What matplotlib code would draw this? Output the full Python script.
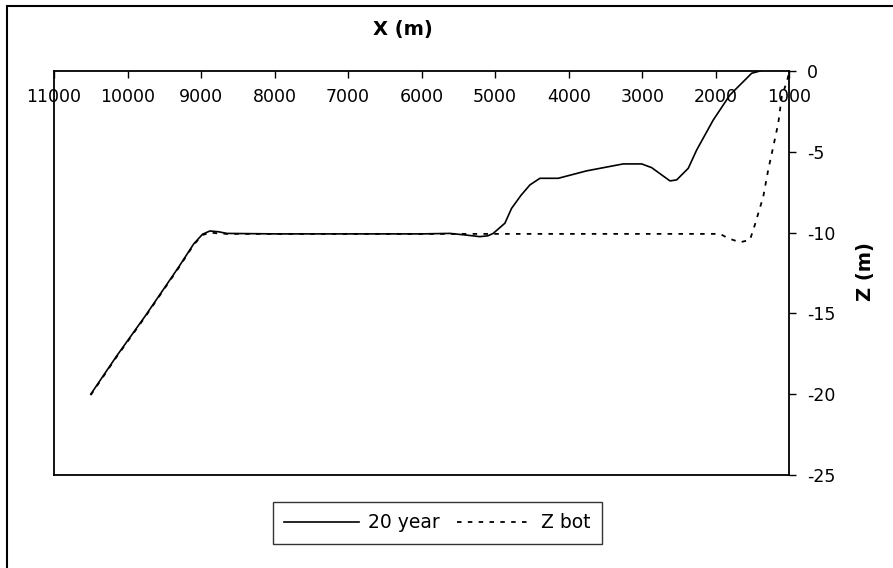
import matplotlib
matplotlib.use("Agg")
import matplotlib.pyplot as plt
from matplotlib.patches import Rectangle

plt.rcParams["font.family"] = ["DejaVu Sans"]
plt.rcParams["axes.unicode_minus"] = False

# Bed profile after 20 years (distance in m, elevation in m)
x_20yr = [10500, 10150, 9750, 9300, 9100, 8980, 8880, 8760, 8650, 8000, 7000,
          6000, 5616, 5400, 5210, 5100, 5027, 4868, 4777, 4650, 4528, 4392,
          4143, 3757, 3259, 3008, 2872, 2623, 2532, 2374, 2260, 2034, 1807,
          1626, 1512, 1399]
z_20yr = [-20.0, -17.65, -15.1, -12.1, -10.7, -10.1, -9.9, -9.95, -10.05,
          -10.08, -10.08, -10.08, -10.05, -10.15, -10.25, -10.2, -10.05, -9.42,
          -8.5, -7.7, -7.05, -6.64, -6.64, -6.18, -5.75, -5.75, -5.98, -6.8,
          -6.74, -6.02, -4.89, -3.03, -1.48, -0.66, -0.14, 0.0]

# Initial bottom elevation
x_zbot = [10500, 10150, 9750, 9300, 9100, 8980, 8880, 8760, 8650, 7000, 5000,
          3000, 1943, 1830, 1671, 1535, 1467, 1354, 1286, 1218, 1150, 1103,
          1027, 1000]
z_zbot = [-20.05, -17.7, -15.15, -12.15, -10.75, -10.15, -10.0, -10.05, -10.08,
          -10.08, -10.08, -10.08, -10.08, -10.35, -10.6, -10.45, -9.5, -7.77,
          -6.1, -4.68, -3.23, -1.59, -0.56, 0.0]

x_ticks = [11000, 10000, 9000, 8000, 7000, 6000, 5000, 4000, 3000, 2000, 1000]
z_ticks = [0, -5, -10, -15, -20, -25]

W, H = 893, 568
fig = plt.figure(figsize=(W / 100, H / 100), dpi=100)
fig.patch.set_facecolor("white")

left, right, top, bottom = 54, 789.3, 71, 475
ax = fig.add_axes([left / W, 1 - bottom / H, (right - left) / W, (bottom - top) / H])

ax.plot(x_20yr, z_20yr, color="black", lw=1.2, label="20 year")
ax.plot(x_zbot, z_zbot, color="black", lw=1.3, linestyle=(0, (2.5, 3.5)),
        label="Z bot")

ax.set_xlim(11000, 1000)
ax.set_ylim(-25, 0)
ax.set_xticks(x_ticks)
ax.set_xticklabels([str(v) for v in x_ticks])
ax.set_yticks(z_ticks)
ax.set_yticklabels([str(v) for v in z_ticks])

for sp in ax.spines.values():
    sp.set_linewidth(1.3)
    sp.set_color("black")

ax.tick_params(axis="x", top=True, bottom=False, labeltop=True,
               labelbottom=False, direction="in", length=5, width=1,
               pad=-25, labelsize=12.5)
ax.yaxis.tick_right()
ax.tick_params(axis="y", right=True, left=False, direction="out", length=5,
               width=1, pad=8, labelsize=12.5)

fig.text(403 / W, 1 - 30 / H, "X (m)", fontsize=14, fontweight="bold",
         ha="center", va="center")
fig.text(866 / W, 1 - 272 / H, "Z (m)", fontsize=14, fontweight="bold",
         rotation=90, ha="center", va="center")

leg = fig.legend(loc="center", bbox_to_anchor=(437.5 / W, 1 - 523 / H),
                 ncol=2, fontsize=13.5, frameon=True, fancybox=False,
                 handlelength=4.0, handletextpad=0.5, columnspacing=0.9,
                 borderpad=0.6, borderaxespad=0)
leg.get_frame().set_edgecolor("black")
leg.get_frame().set_linewidth(1.0)

# Outer chart frame (left and top edges visible)
fig.add_artist(Rectangle((7 / W, -0.2), 1.2, 1.2 - 5.7 / H,
                         transform=fig.transFigure, fill=False,
                         edgecolor="black", lw=1.5))

fig.savefig("out.png", dpi=100)
